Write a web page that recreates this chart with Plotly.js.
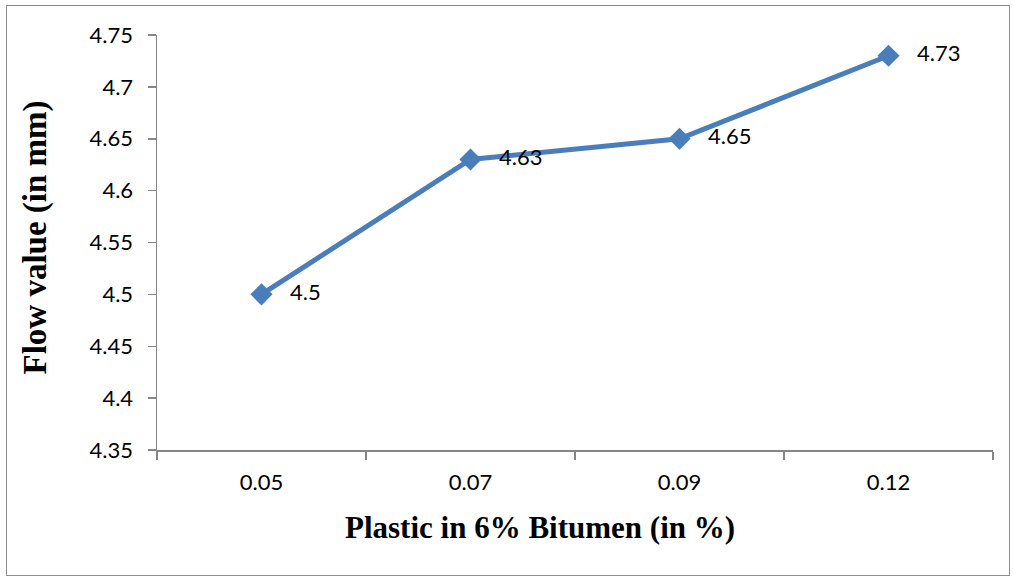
<!DOCTYPE html>
<html>
<head>
<meta charset="utf-8">
<script src="https://cdn.plot.ly/plotly-3.0.1.min.js"></script>
<style>
  html, body { margin: 0; padding: 0; background: #fff; }
  #wrap { position: relative; width: 1013px; height: 577px; }
  #frame { position: absolute; left: 6px; top: 5px; width: 1004px; height: 571px;
           border: 1.5px solid #8c8c8c; box-sizing: border-box; pointer-events: none; }
  #chart { position: absolute; left: 0; top: 0; width: 1013px; height: 577px; }
</style>
</head>
<body>
<div id="wrap">
  <div id="chart"></div>
  <div id="frame"></div>
</div>
<script>
// Plastic content (category labels) and measured flow values
const plasticPct = ["0.05", "0.07", "0.09", "0.12"];
const flowValue = [4.5, 4.63, 4.65, 4.73];
const yTicks = [4.35, 4.4, 4.45, 4.5, 4.55, 4.6, 4.65, 4.7, 4.75];
const yTickText = ["4.35", "4.4", "4.45", "4.5", "4.55", "4.6", "4.65", "4.7", "4.75"];
const xTitle = "Plastic in 6% Bitumen (in %)";
const yTitle = "Flow value (in mm)";

const labelFont = { family: "Lato, 'Open Sans', sans-serif", size: 22, color: "#000" };
const titleFont = { family: "'Liberation Serif', 'Times New Roman', serif", size: 31, color: "#000", weight: "bold" };

const trace = {
  x: plasticPct,
  y: flowValue,
  type: "scatter",
  mode: "lines+markers+text",
  text: flowValue.map(v => "   " + v),
  textposition: "middle right",
  textfont: labelFont,
  line: { color: "#4a7ebb", width: 5 },
  marker: { symbol: "diamond", size: 17, color: "#4a7ebb" },
  cliponaxis: false,
  hoverinfo: "x+y"
};

const axisCommon = {
  ticks: "outside",
  ticklen: 8,
  tickwidth: 1.5,
  tickcolor: "#868686",
  showline: true,
  linecolor: "#868686",
  linewidth: 1.5,
  showgrid: false,
  zeroline: false,
  tickfont: labelFont
};

const layout = {
  width: 1013,
  height: 577,
  margin: { l: 157, r: 20, t: 35, b: 127 },
  paper_bgcolor: "#fff",
  plot_bgcolor: "#fff",
  showlegend: false,
  xaxis: Object.assign({}, axisCommon, {
    type: "category",
    range: [-0.5, plasticPct.length - 0.5],
    tickson: "boundaries",
    ticklabelstandoff: 12
  }),
  yaxis: Object.assign({}, axisCommon, {
    range: [4.35, 4.75],
    tickvals: yTicks,
    ticktext: yTickText,
    ticklabelstandoff: 10
  }),
  annotations: [
    {
      text: xTitle, font: titleFont, showarrow: false,
      xref: "paper", yref: "paper", x: 0.5, y: 0,
      xanchor: "center", yanchor: "middle",
      xshift: -35, yshift: -77
    },
    {
      text: yTitle, font: Object.assign({}, titleFont, { size: 33 }), showarrow: false,
      textangle: -90,
      xref: "paper", yref: "paper", x: 0, y: 0.5,
      xanchor: "center", yanchor: "middle",
      xshift: -122, yshift: 5
    }
  ]
};

Plotly.newPlot("chart", [trace], layout, { displayModeBar: false, staticPlot: true });
</script>
</body>
</html>
